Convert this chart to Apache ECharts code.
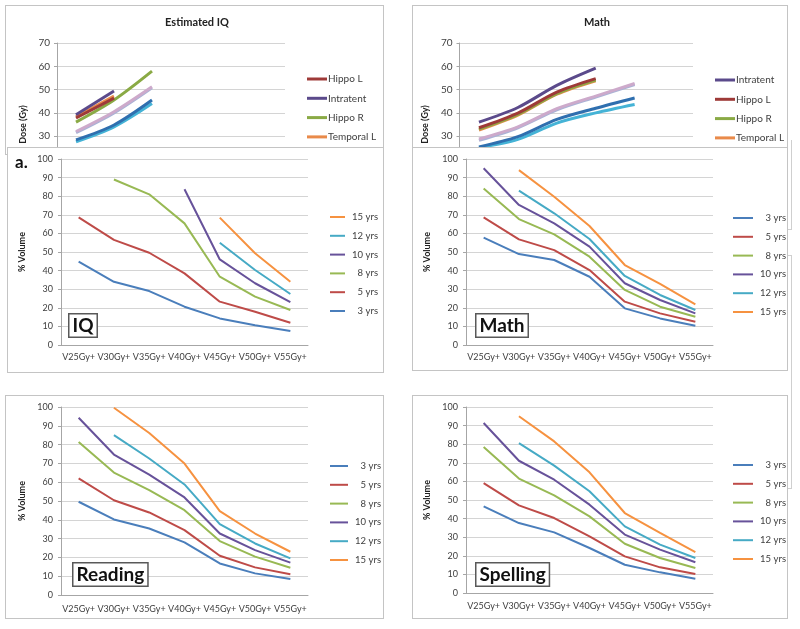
<!DOCTYPE html>
<html>
<head>
<meta charset="utf-8">
<script src="https://cdn.jsdelivr.net/npm/echarts@6/dist/echarts.min.js"></script>
<style>
  body { margin: 0; background: #fff; width: 800px; height: 629px; position: relative; overflow: hidden; }
  .box { position: absolute; border: 1px solid #c4c4c4; background: #fff; overflow: hidden; }
  .box > div { position: absolute; left: 0; top: 0; }
  .edge { position: absolute; border: 1px solid #cfcfcf; }
</style>
</head>
<body>
<div class="box" style="left:5px;top:5px;width:377px;height:148px"><div id="doseIQ" style="width:377px;height:300px"></div></div>
<div class="box" style="left:412px;top:5px;width:374px;height:148px"><div id="doseMath" style="width:374px;height:300px"></div></div>
<div class="edge" style="left:770px;top:140px;width:21px;height:89px;border-left:none;border-top:none"></div>
<div class="edge" style="left:770px;top:255px;width:21px;height:232px;border-left:none"></div>
<div class="box" style="left:7px;top:147px;width:375px;height:224px"><div id="volIQ" style="width:375px;height:224px"></div></div>
<div class="box" style="left:412px;top:147px;width:374px;height:222px"><div id="volMath" style="width:374px;height:222px"></div></div>
<div class="box" style="left:5px;top:395px;width:377px;height:222px"><div id="volReading" style="width:377px;height:222px"></div></div>
<div class="box" style="left:412px;top:395px;width:374px;height:222px"><div id="volSpelling" style="width:374px;height:222px"></div></div>
<script>
// ---- data ----
const ages = ['3', '5', '8', '10', '12', '15'];
const doseLevels = ['V25Gy+', 'V30Gy+', 'V35Gy+', 'V40Gy+', 'V45Gy+', 'V50Gy+', 'V55Gy+'];
const ageNames = ['3 yrs', '5 yrs', '8 yrs', '10 yrs', '12 yrs', '15 yrs'];
const doseTicks = [0, 10, 20, 30, 40, 50, 60, 70];

// dose (Gy) per structure vs age, estimated IQ panel
const iqHippoL = [37.8, 46.3, null, null, null, null];
const iqIntratent = [39.2, 49.4, null, null, null, null];
const iqHippoR = [36, 45.5, 57.9, null, null, null];
const iqTemporalL = [38.3, 47.2, null, null, null, null];
const iqOther1 = [32, 40.5, 51.2, null, null, null];
const iqOther2 = [31.5, 40, 50.8, null, null, null];
const iqOther3 = [28.4, 34.8, 45.5, null, null, null];
const iqOther4 = [27.6, 34, 44, null, null, null];

// dose (Gy) per structure vs age, math panel
const mathIntratent = [36, 42.3, 51.8, 59.2, null, null];
const mathHippoL = [33.6, 39.9, 48.9, 54.7, null, null];
const mathHippoR = [33, 39.3, 48.3, 54.1, null, null];
const mathTemporalL = [32.6, 39, 48, 53.8, null, null];
const mathOther1 = [28.8, 34, 41.8, 47.2, 52.6, null];
const mathOther2 = [28.2, 33.6, 41.3, 46.8, 52.2, null];
const mathOther3 = [25.4, 29.8, 37.2, 42, 46.4, null];
const mathOther4 = [25, 28.6, 35.6, 40, 43.6, null];

// % volume per age
const iq3 = [44.8, 34, 29, 20.6, 14.3, 10.6, 7.5];
const iq5 = [68.6, 56.5, 49.6, 38.5, 23.3, 17.9, 12];
const iq8 = [null, 89, 81, 65.4, 36.7, 26, 18.8];
const iq10 = [null, null, null, 83.7, 46, 33.2, 23];
const iq12 = [null, null, null, null, 55, 40.3, 27.4];
const iq15 = [null, null, null, null, 68.5, 49.3, 34];

const math3 = [57.7, 48.9, 45.7, 36.7, 19.7, 14.3, 10.4];
const math5 = [68.6, 56.8, 51, 40.3, 23.3, 17, 12.5];
const math8 = [84.2, 67.7, 59.5, 47.5, 29.6, 20.6, 15.2];
const math10 = [95, 75.3, 65.4, 52.9, 33.2, 24.2, 17];
const math12 = [null, 83, 70.8, 57, 37.1, 26.9, 18.8];
const math15 = [null, 94, 79.7, 64, 43, 32.8, 21.9];

const read3 = [49.6, 40.2, 35.4, 28, 16.8, 11.5, 8.5];
const read5 = [62, 50.4, 43.9, 34.5, 20.9, 14.7, 11];
const read8 = [81.4, 65.1, 55.8, 45.1, 28.7, 20.4, 14.5];
const read10 = [94.3, 74.7, 64, 51.9, 32.7, 23.9, 17.2];
const read12 = [null, 85, 72.6, 58.8, 37.7, 27.4, 19.5];
const read15 = [null, 99.6, 86.2, 69.9, 44.6, 32.7, 23];

const spell3 = [46.6, 37.6, 32.6, 24.2, 15.2, 11.1, 7.7];
const spell5 = [59.1, 47.1, 40.3, 30.5, 19.7, 13.8, 10.2];
const spell8 = [78.5, 61.5, 52.5, 41.2, 26.5, 18.8, 13.4];
const spell10 = [91.4, 71.1, 60.9, 47.5, 31.4, 23.3, 16.5];
const spell12 = [null, 80.6, 68.5, 54.7, 35.8, 26, 18.8];
const spell15 = [null, 95, 81.5, 64.9, 43, 32.3, 22];

const ageColors = ['#4A7EBB', '#BE4B48', '#98B954', '#67529A', '#46AAC5', '#F69240'];
const font = 'Lato';
const labelColor = '#404040';

// legend icon: a plain line segment, w wide, inside a 10px tall box
function lineIcon(w, t) {
  const y0 = 5 - t / 2, y1 = 5 + t / 2;
  return 'path://M0,0 M' + w + ',10 M0,' + y0 + ' L' + w + ',' + y0 + ' L' + w + ',' + y1 + ' L0,' + y1 + ' Z';
}

function doseOption(title, titleX, grid, nameGap, legendPos, structures) {
  return {
    animation: false,
    textStyle: { fontFamily: font },
    title: {
      text: title, left: titleX, top: 11, padding: 0, textAlign: 'center',
      textStyle: { fontSize: 11, fontWeight: 'bold', color: '#222', fontFamily: font }
    },
    grid: grid,
    legend: {
      data: structures.slice(0, 4).map(s => s.name),
      orient: 'vertical', left: legendPos[0], top: legendPos[1],
      icon: lineIcon(20, 3),
      itemWidth: 20, itemHeight: 10, itemGap: 9.3,
      textStyle: { fontSize: 10, color: labelColor, fontFamily: font, padding: [0, 0, 0, -4] }
    },
    xAxis: {
      type: 'category', data: ages,
      axisLine: { lineStyle: { color: '#a6a6a6' } },
      axisTick: { show: false }, axisLabel: { show: false }
    },
    yAxis: {
      type: 'value', min: 0, max: 70, interval: 10,
      name: 'Dose (Gy)', nameLocation: 'middle', nameGap: nameGap,
      nameTextStyle: { fontSize: 9, fontWeight: 'bold', color: '#222', fontFamily: font },
      axisLine: { show: true, lineStyle: { color: '#a6a6a6' } },
      axisTick: { show: true, length: 3, lineStyle: { color: '#a6a6a6' } },
      axisLabel: { fontSize: 10, color: labelColor, margin: 7,
        formatter: v => doseTicks.indexOf(v) >= 0 ? String(v) : '' },
      splitLine: { lineStyle: { color: '#d4d4d4' } }
    },
    series: structures.slice().reverse().map(s => ({
      name: s.name, type: 'line', data: s.data, symbol: 'none', smooth: 0.3,
      connectNulls: false, lineStyle: { width: 3, color: s.color }, itemStyle: { color: s.color }
    }))
  };
}

function volumeOption(grid, nameGap, labelMargin, legendPos, legendOrder, itemWidth, values, tag, tagPos, extra) {
  const graphics = [{
    type: 'text', left: tagPos[0], top: tagPos[1], z: 100,
    style: {
      text: tag, font: 'bold 19px ' + font, fill: '#111',
      backgroundColor: '#fff', borderColor: '#595959', borderWidth: 1.5, padding: [2, 3, 1, 3]
    }
  }];
  if (extra) graphics.push(extra);
  return {
    animation: false,
    textStyle: { fontFamily: font },
    grid: grid,
    graphic: graphics,
    legend: {
      data: legendOrder.map(i => ageNames[i]),
      orient: 'vertical', left: legendPos[0], top: legendPos[1],
      icon: lineIcon(itemWidth, 2),
      itemWidth: itemWidth, itemHeight: 10, itemGap: 8.8,
      formatter: n => '{n|' + n + '}',
      textStyle: { rich: { n: { width: 28, align: 'right', fontSize: 9.5, color: labelColor, fontFamily: font } } }
    },
    xAxis: {
      type: 'category', data: doseLevels,
      axisLine: { lineStyle: { color: '#a6a6a6' } },
      axisTick: { length: 3, lineStyle: { color: '#a6a6a6' } },
      axisLabel: { interval: 0, fontSize: 9, color: labelColor, margin: labelMargin, fontFamily: font }
    },
    yAxis: {
      type: 'value', min: 0, max: 100, interval: 10,
      name: '% Volume', nameLocation: 'middle', nameGap: nameGap,
      nameTextStyle: { fontSize: 9, fontWeight: 'bold', color: '#222', fontFamily: font },
      axisLine: { show: true, lineStyle: { color: '#a6a6a6' } },
      axisTick: { show: true, length: 3, lineStyle: { color: '#a6a6a6' } },
      axisLabel: { fontSize: 9, color: labelColor, margin: 8, fontFamily: font },
      splitLine: { lineStyle: { color: '#d4d4d4' } }
    },
    series: values.map((d, i) => ({
      name: ageNames[i], type: 'line', data: d, symbol: 'none',
      lineStyle: { width: 2, color: ageColors[i] }, itemStyle: { color: ageColors[i] }
    }))
  };
}

const iqStructures = [
  { name: 'Hippo L', data: iqHippoL, color: '#9E3A38' },
  { name: 'Intratent', data: iqIntratent, color: '#5B4A8B' },
  { name: 'Hippo R', data: iqHippoR, color: '#8AAA45' },
  { name: 'Temporal L', data: iqTemporalL, color: '#E98A4A' },
  { name: 'Other 1', data: iqOther1, color: '#CDAACB' },
  { name: 'Other 2', data: iqOther2, color: '#A9B3D6' },
  { name: 'Other 3', data: iqOther3, color: '#2F6FAF' },
  { name: 'Other 4', data: iqOther4, color: '#45B3D6' }
];
const mathStructures = [
  { name: 'Intratent', data: mathIntratent, color: '#5B4A8B' },
  { name: 'Hippo L', data: mathHippoL, color: '#9E3A38' },
  { name: 'Hippo R', data: mathHippoR, color: '#8AAA45' },
  { name: 'Temporal L', data: mathTemporalL, color: '#E98A4A' },
  { name: 'Other 1', data: mathOther1, color: '#CDAACB' },
  { name: 'Other 2', data: mathOther2, color: '#A9B3D6' },
  { name: 'Other 3', data: mathOther3, color: '#2F6FAF' },
  { name: 'Other 4', data: mathOther4, color: '#45B3D6' }
];

echarts.init(document.getElementById('doseIQ')).setOption(
  doseOption('Estimated IQ', 191, { left: 51, top: 37, width: 228, height: 163 }, 17, [296, 63], iqStructures));
echarts.init(document.getElementById('doseMath')).setOption(
  doseOption('Math', 184, { left: 46, top: 37, width: 234, height: 163 }, 13, [297, 64], mathStructures));

echarts.init(document.getElementById('volIQ')).setOption(
  volumeOption({ left: 53, top: 11, width: 247, height: 186 }, 24, 8, [317, 59], [5, 4, 3, 2, 1, 0], 15,
    [iq3, iq5, iq8, iq10, iq12, iq15], 'IQ', [60, 165],
    { type: 'text', left: 7, top: 6, style: { text: 'a.', font: 'bold 17px ' + font, fill: '#111' } }));
echarts.init(document.getElementById('volMath')).setOption(
  volumeOption({ left: 53, top: 11, width: 247, height: 186 }, 24, 8, [315, 60], [0, 1, 2, 3, 4, 5], 20,
    [math3, math5, math8, math10, math12, math15], 'Math', [62, 165]));
echarts.init(document.getElementById('volReading')).setOption(
  volumeOption({ left: 55, top: 11, width: 247, height: 188 }, 24, 10, [319, 60], [0, 1, 2, 3, 4, 5], 18,
    [read3, read5, read8, read10, read12, read15], 'Reading', [66, 166]));
echarts.init(document.getElementById('volSpelling')).setOption(
  volumeOption({ left: 53, top: 11, width: 247, height: 186 }, 24, 9, [315, 59], [0, 1, 2, 3, 4, 5], 20,
    [spell3, spell5, spell8, spell10, spell12, spell15], 'Spelling', [62, 166]));
</script>
</body>
</html>
